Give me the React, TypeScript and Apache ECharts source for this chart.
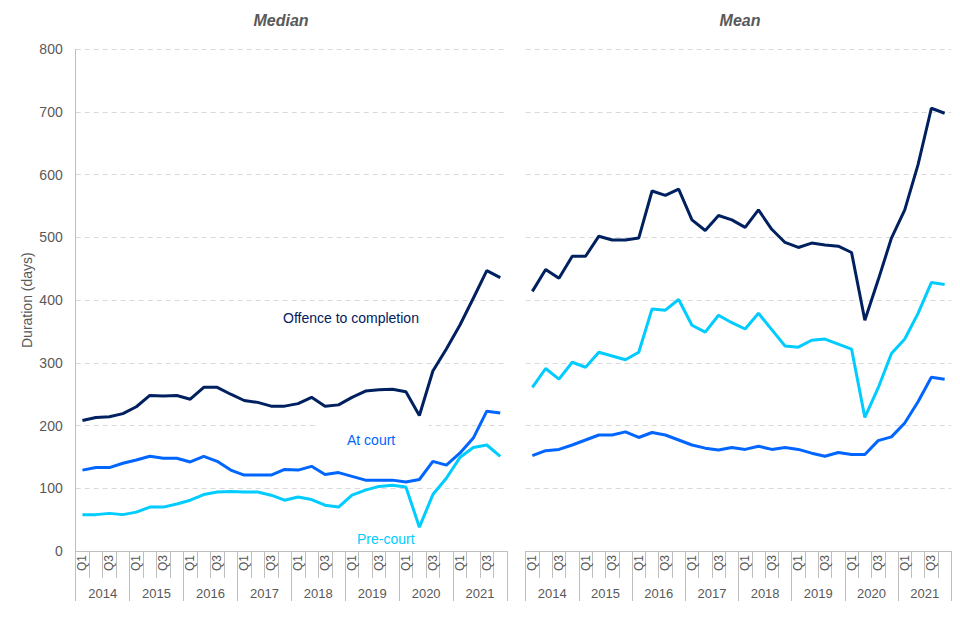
import React, { useEffect, useRef } from "react";
import * as echarts from "echarts";

const years = ["2014", "2015", "2016", "2017", "2018", "2019", "2020", "2021"];
const quarterNames = ["Q1", "Q2", "Q3", "Q4"];
const quarters: string[] = years.flatMap(() => quarterNames);

const medianOffence = [208, 213, 214, 219, 230, 248, 247, 248, 242, 261, 261, 250, 240, 237, 231, 231, 235, 245, 231, 233, 245, 255, 257, 258, 254, 216, 287, 322, 360, 403, 447, 436];
const medianCourt = [129, 133, 133, 140, 145, 151, 148, 148, 142, 151, 143, 129, 121, 121, 121, 130, 129, 135, 122, 125, 119, 113, 113, 113, 110, 114, 143, 137, 156, 180, 223, 220];
const medianPre = [58, 58, 60, 58, 62, 70, 70, 75, 81, 90, 94, 95, 94, 94, 89, 81, 86, 82, 73, 70, 89, 97, 103, 105, 102, 38, 90, 116, 149, 165, 169, 151];

const meanOffence = [414, 449, 435, 470, 470, 502, 496, 496, 499, 574, 567, 577, 528, 511, 535, 528, 516, 544, 513, 492, 484, 491, 488, 486, 476, 368, 432, 499, 544, 616, 706, 698];
const meanCourt = [152, 160, 162, 169, 177, 185, 185, 190, 181, 189, 185, 177, 169, 164, 161, 165, 162, 167, 162, 165, 162, 156, 151, 157, 154, 154, 176, 182, 204, 238, 277, 274];
const meanPre = [261, 291, 274, 301, 293, 317, 311, 305, 317, 386, 384, 401, 360, 349, 376, 364, 354, 379, 353, 327, 325, 336, 338, 330, 322, 213, 260, 315, 338, 379, 428, 425];

const NAVY = "#002060";
const BLUE = "#0066ff";
const CYAN = "#00ccff";
const GREY_TEXT = "#595959";
const AXIS = "#bfbfbf";
const FONT = "Liberation Sans, Arial, sans-serif";

function quarterAxis(gridIndex: number) {
  return {
    type: "category",
    gridIndex,
    data: quarters,
    boundaryGap: true,
    position: "bottom",
    axisLine: { show: true, lineStyle: { color: AXIS, width: 1 } },
    axisTick: { show: true, interval: 0, length: 27, lineStyle: { color: AXIS } },
    axisLabel: { interval: 1, rotate: 90, fontSize: 12, color: GREY_TEXT, fontFamily: FONT, margin: 4 },
    splitLine: { show: false },
  };
}

function yearAxis(gridIndex: number) {
  return {
    type: "category",
    gridIndex,
    data: years,
    boundaryGap: true,
    position: "bottom",
    offset: 0,
    axisLine: { show: false },
    axisTick: { show: true, interval: 0, length: 50, lineStyle: { color: AXIS } },
    axisLabel: { interval: 0, fontSize: 13, color: GREY_TEXT, fontFamily: FONT, margin: 36 },
    splitLine: { show: false },
  };
}

function lineSeries(name: string, data: number[], color: string, axisIdx: number) {
  return {
    name,
    type: "line",
    xAxisIndex: axisIdx,
    yAxisIndex: axisIdx === 0 ? 0 : 1,
    data,
    symbol: "none",
    lineStyle: { color, width: 3 },
    itemStyle: { color },
    z: 3,
  };
}

export default function App() {
  const ref = useRef<HTMLDivElement>(null);
  useEffect(() => {
    if (!ref.current) return;
    const chart = echarts.init(ref.current, undefined, { renderer: "svg" });
    const splitLine = { show: true, lineStyle: { color: "#d9d9d9", type: [5, 4], width: 1 } };
    const titleStyle = { fontSize: 16, fontWeight: "bold", fontStyle: "italic", color: GREY_TEXT, fontFamily: FONT };
    chart.setOption({
      animation: false,
      backgroundColor: "#ffffff",
      textStyle: { fontFamily: FONT },
      title: [
        { text: "Median", left: 276, top: 7, textAlign: "center", textStyle: titleStyle },
        { text: "Mean", left: 735, top: 7, textAlign: "center", textStyle: titleStyle },
      ],
      grid: [
        { left: 75.7, top: 49.3, width: 431.3, height: 501.7 },
        { left: 525.7, top: 49.3, width: 425.6, height: 501.7 },
      ],
      xAxis: [quarterAxis(0), yearAxis(0), quarterAxis(1), yearAxis(1)],
      yAxis: [
        {
          type: "value",
          gridIndex: 0,
          min: 0,
          max: 800,
          interval: 100,
          name: "Duration (days)",
          nameLocation: "middle",
          nameGap: 42,
          nameTextStyle: { fontSize: 14, color: GREY_TEXT, fontFamily: FONT },
          axisLine: { show: true, lineStyle: { color: AXIS } },
          axisTick: { show: false },
          axisLabel: { fontSize: 14, color: GREY_TEXT, fontFamily: FONT, margin: 13 },
          splitLine,
        },
        {
          type: "value",
          gridIndex: 1,
          min: 0,
          max: 800,
          interval: 100,
          axisLine: { show: false },
          axisTick: { show: false },
          axisLabel: { show: false },
          splitLine,
        },
      ],
      series: [
        lineSeries("Offence to completion", medianOffence, NAVY, 0),
        lineSeries("At court", medianCourt, BLUE, 0),
        lineSeries("Pre-court", medianPre, CYAN, 0),
        lineSeries("Offence to completion (mean)", meanOffence, NAVY, 2),
        lineSeries("At court (mean)", meanCourt, BLUE, 2),
        lineSeries("Pre-court (mean)", meanPre, CYAN, 2),
      ],
      graphic: [
        {
          type: "text",
          left: 283,
          top: 311,
          z: 10,
          style: { text: "Offence to completion", fill: NAVY, fontSize: 14, fontFamily: FONT },
        },
        {
          type: "rect",
          shape: { x: 317, y: 422, width: 112, height: 36 },
          style: { fill: "#ffffff" },
          z: 1,
        },
        {
          type: "text",
          left: 347,
          top: 433,
          z: 10,
          style: { text: "At court", fill: BLUE, fontSize: 14, fontFamily: FONT },
        },
        {
          type: "text",
          left: 357,
          top: 532,
          z: 10,
          style: { text: "Pre-court", fill: CYAN, fontSize: 14, fontFamily: FONT },
        },
      ],
    });
    return () => chart.dispose();
  }, []);
  return (
    <div
      ref={ref}
      style={{ position: "fixed", left: 0, top: 0, width: 960, height: 640, background: "#fff" }}
    />
  );
}
